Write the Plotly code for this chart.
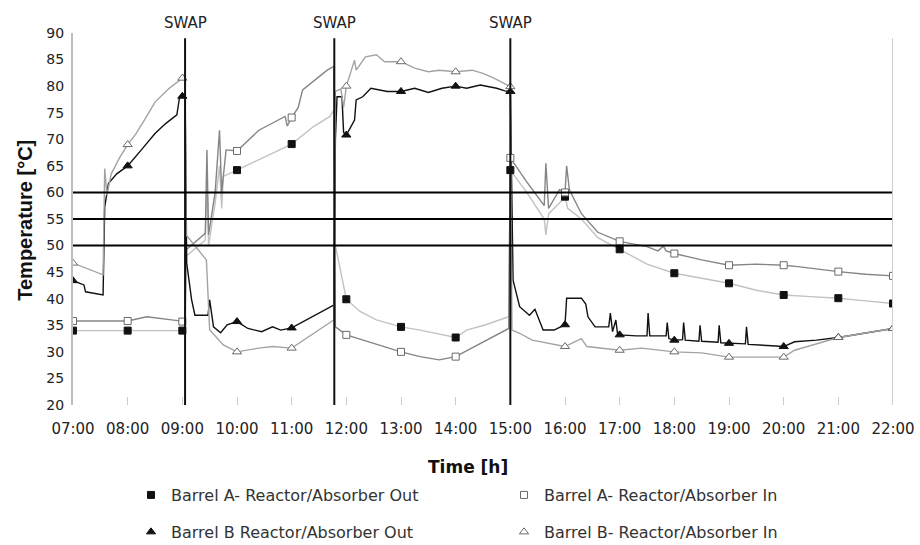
import plotly.graph_objects as go

# ---------------------------------------------------------------- data
# time in decimal hours, temperature in degrees C
a_out_t = [7.0, 8.0, 9.0, 9.05, 9.07, 9.42, 9.45, 9.48, 9.6, 9.68, 9.72, 9.75, 10.0, 10.4,
           11.0, 11.4, 11.7, 11.77, 11.8, 12.0, 12.25, 12.55, 12.75, 13.0, 13.35, 13.65,
           14.0, 14.2, 14.55, 14.97, 15.0, 15.3, 15.62, 15.65, 15.7, 15.9, 16.0, 16.05,
           16.3, 16.6, 17.0, 17.5, 18.0, 18.5, 19.0, 19.5, 20.0, 20.5, 21.0, 21.5, 22.0]
a_out_v = [34.0, 34.0, 34.0, 34.0, 48.0, 51.0, 62.0, 50.0, 58.0, 65.0, 57.0, 63.0, 64.2, 66.1,
           69.1, 72.4, 74.3, 75.5, 50.0, 39.9, 37.6, 36.0, 35.4, 34.7, 34.1, 33.5,
           32.7, 34.1, 35.1, 36.6, 64.2, 60.0, 55.0, 52.0, 56.0, 58.0, 59.2, 57.0,
           55.0, 51.5, 49.3, 46.5, 44.8, 43.9, 42.9, 41.6, 40.7, 40.4, 40.1, 39.6, 39.1]

a_in_t = [7.0, 8.0, 8.35, 9.0, 9.05, 9.07, 9.42, 9.45, 9.48, 9.6, 9.68, 9.72, 9.8, 10.0,
          10.4, 10.88, 10.92, 11.0, 11.12, 11.2, 11.65, 11.77, 11.8, 12.0, 12.4, 13.0,
          13.35, 13.7, 14.0, 14.45, 14.97, 15.0, 15.3, 15.62, 15.65, 15.7, 15.9, 16.0,
          16.03, 16.08, 16.3, 16.6, 17.0, 17.5, 17.7, 17.8, 17.85, 18.0, 18.5, 19.0,
          19.5, 20.0, 20.3, 21.0, 21.5, 22.0]
a_in_v = [35.8, 35.8, 36.6, 35.7, 35.7, 49.2, 52.3, 68.0, 52.0, 60.0, 71.7, 60.0, 68.0, 67.8,
          71.7, 74.3, 72.5, 74.1, 76.0, 79.3, 83.0, 83.7, 34.7, 33.2, 31.9, 30.0,
          29.1, 28.5, 29.1, 31.6, 34.4, 66.5, 62.0, 57.5, 65.5, 57.0, 60.5, 60.0,
          65.0, 60.5, 56.0, 52.5, 50.8, 49.8, 49.0, 49.9, 49.0, 48.5, 47.3, 46.3,
          46.5, 46.3, 46.0, 45.1, 44.6, 44.3]

b_out_t = [7.0, 7.2, 7.23, 7.55, 7.58, 7.65, 7.8, 8.0, 8.25, 8.5, 8.7, 8.9, 8.95, 9.0, 9.05,
           9.08, 9.17, 9.23, 9.47, 9.5, 9.57, 9.7, 9.82, 10.0, 10.2, 10.45, 10.65, 10.8,
           11.0, 11.77, 11.8, 11.83, 11.92, 11.95, 12.0, 12.15, 12.18, 12.3, 12.45, 12.75,
           13.0, 13.25, 13.5, 13.75, 14.0, 14.2, 14.45, 14.75, 14.9, 15.0, 15.05, 15.17,
           15.35, 15.45, 15.6, 15.8, 16.0, 16.03, 16.3, 16.38, 16.42, 16.55, 16.8, 16.83,
           16.87, 16.93, 16.96, 17.0, 17.3, 17.5, 17.52, 17.55, 17.85, 17.87, 17.9, 18.0,
           18.15, 18.17, 18.2, 18.45, 18.47, 18.5, 18.8, 18.82, 18.85, 19.0, 19.3, 19.32,
           19.35, 19.7, 20.0, 20.2, 20.6, 21.0, 21.5, 22.0]
b_out_v = [43.4, 42.6, 41.3, 40.7, 57.3, 61.7, 63.5, 65.0, 68.0, 71.1, 73.0, 74.6, 78.0, 78.1, 78.5,
           46.7, 39.8, 36.9, 36.9, 39.8, 34.7, 33.6, 35.1, 35.7, 34.4, 33.8, 34.7, 34.1,
           34.5, 38.8, 70.0, 78.0, 78.0, 71.3, 70.8, 73.6, 77.4, 78.0, 79.6, 79.0,
           79.0, 79.6, 78.8, 79.6, 80.0, 79.6, 80.2, 79.6, 79.1, 79.0, 43.5, 38.5,
           36.9, 38.0, 34.1, 34.1, 35.1, 40.1, 40.1, 39.0, 36.6, 34.7, 34.7, 37.3,
           33.8, 36.0, 33.5, 33.2, 33.0, 33.0, 37.3, 33.0, 33.0, 35.5, 32.5, 32.2,
           32.3, 35.5, 32.2, 32.0, 35.0, 32.0, 31.8, 35.0, 31.7, 31.6, 31.5, 34.7,
           31.4, 31.2, 31.0, 31.9, 32.2, 32.7, 33.5, 34.4]

b_in_t = [7.0, 7.3, 7.55, 7.58, 7.62, 7.7, 7.85, 8.0, 8.15, 8.3, 8.5, 8.75, 9.0, 9.05, 9.07,
          9.44, 9.5, 9.75, 10.0, 10.4, 10.65, 11.0, 11.77, 11.8, 11.9, 11.95, 12.0, 12.15,
          12.18, 12.35, 12.55, 12.7, 13.0, 13.25, 13.5, 13.7, 14.0, 14.3, 14.5, 14.7,
          14.9, 15.0, 15.03, 15.17, 15.4, 15.75, 16.0, 16.3, 16.4, 17.0, 17.4, 18.0,
          18.5, 19.0, 20.0, 20.2, 21.0, 22.0]
b_in_v = [46.7, 45.5, 44.5, 64.5, 59.5, 63.5, 66.5, 69.0, 71.0, 73.5, 77.0, 79.5, 81.5, 82.5, 52.0,
          47.3, 34.1, 31.3, 30.0, 30.7, 31.0, 30.7, 36.0, 79.0, 79.5, 76.0, 80.0, 84.9,
          83.0, 85.5, 85.9, 84.6, 84.6, 83.4, 82.7, 83.0, 82.7, 83.0, 82.4, 81.5,
          80.5, 79.9, 34.1, 33.5, 32.2, 31.5, 31.0, 32.5, 31.0, 30.3, 30.7, 30.0,
          29.8, 29.0, 29.0, 30.3, 32.7, 34.4]

series_names = ["Barrel A- Reactor/Absorber Out", "Barrel A- Reactor/Absorber In",
                "Barrel B Reactor/Absorber Out", "Barrel B- Reactor/Absorber In"]

hour_ticks = list(range(7, 23))
hour_labels = [f"{h:02d}:00" for h in hour_ticks]

swap_times = [9.05, 11.78, 15.0]
limit_levels = [60, 55, 50]

# ---------------------------------------------------------------- styles
WIDE = "DejaVu Sans, Verdana, sans-serif"
NARROW = "Liberation Sans, Arial, sans-serif"

styles = [
    dict(line="#c2c2c2", symbol="square", fill="#111111", edge="#111111", size=7, legend="legend"),
    dict(line="#858585", symbol="square", fill="#ffffff", edge="#6a6a6a", size=7, legend="legend"),
    dict(line="#111111", symbol="triangle-up", fill="#111111", edge="#111111", size=8, legend="legend2"),
    dict(line="#a3a3a3", symbol="triangle-up", fill="#ffffff", edge="#6a6a6a", size=8, legend="legend2"),
]

series = [(a_out_t, a_out_v), (a_in_t, a_in_v), (b_out_t, b_out_v), (b_in_t, b_in_v)]

fig = go.Figure()

# continuous logger traces
for (t, v), st in zip(series, styles):
    fig.add_trace(go.Scatter(x=t, y=v, mode="lines", showlegend=False, hoverinfo="skip",
                             line=dict(color=st["line"], width=1.4)))

# hourly markers, which also carry the legend entries
for (t, v), st, name in zip(series, styles, series_names):
    ht = [x for x in t if abs(x - round(x)) < 1e-9]
    hv = [y for x, y in zip(t, v) if abs(x - round(x)) < 1e-9]
    fig.add_trace(go.Scatter(x=ht, y=hv, mode="markers", name=name, legend=st["legend"],
                             marker=dict(symbol=st["symbol"], size=st["size"], color=st["fill"],
                                         line=dict(color=st["edge"], width=1))))

# swap markers and limit lines
shapes = []
for s in swap_times:
    shapes.append(dict(type="line", xref="x", yref="y", x0=s, x1=s, y0=20, y1=89,
                       line=dict(color="#111111", width=2)))
for lv in limit_levels:
    shapes.append(dict(type="line", xref="x", yref="y", x0=7, x1=22, y0=lv, y1=lv,
                       line=dict(color="#000000", width=2)))
shapes.append(dict(type="line", xref="x", yref="y", x0=22, x1=22, y0=20, y1=89,
                   line=dict(color="#cfcfcf", width=2)))

annotations = [dict(x=s, y=1.027, xref="x", yref="paper", text="SWAP", showarrow=False,
                    font=dict(size=15, color="#222222", family=WIDE),
                    xanchor="center", yanchor="middle")
               for s in swap_times]
annotations += [
    dict(x=-0.059, y=0.497, xref="paper", yref="paper", text="<b>Temperature [°C]</b>",
         textangle=-90, showarrow=False, font=dict(size=20, color="#111111", family=NARROW),
         xanchor="center", yanchor="middle"),
    dict(x=0.4817, y=-0.1667, xref="paper", yref="paper", text="<b>Time [h]</b>",
         showarrow=False, font=dict(size=17, color="#111111", family=WIDE),
         xanchor="center", yanchor="middle"),
]

legend_common = dict(orientation="h", xanchor="left", yanchor="middle",
                     xref="container", yref="container", x=0.1424,
                     entrywidth=328, entrywidthmode="pixels",
                     font=dict(size=16, color="#333333", family=WIDE),
                     bgcolor="rgba(0,0,0,0)")

fig.update_layout(
    width=920, height=545,
    margin=dict(l=73, r=27, t=33, b=140, autoexpand=False),
    paper_bgcolor="white", plot_bgcolor="white",
    font=dict(family=WIDE, color="#222222"),
    shapes=shapes, annotations=annotations,
    legend=dict(y=0.0917, **legend_common),
    legend2=dict(y=0.0239, **legend_common),
    xaxis=dict(range=[7, 22], tickvals=hour_ticks, ticktext=hour_labels,
               ticks="inside", ticklen=8, tickcolor="#cccccc", tickwidth=1,
               showgrid=False, zeroline=False, showline=False,
               tickfont=dict(size=15, color="#222222", family=WIDE), ticklabelstandoff=13),
    yaxis=dict(range=[20, 90], dtick=5, showgrid=False, zeroline=False,
               showline=True, linecolor="#bdbdbd", linewidth=2, ticks="",
               tickfont=dict(size=14, color="#222222", family=WIDE), ticklabelstandoff=4),
)

fig.write_html("out.html")
